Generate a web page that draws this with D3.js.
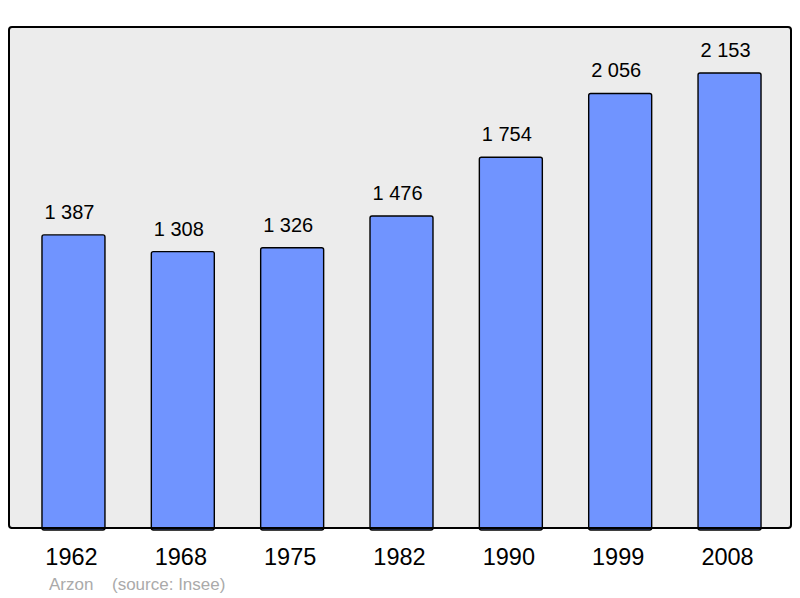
<!DOCTYPE html>
<html>
<head>
<meta charset="utf-8">
<script src="https://cdn.jsdelivr.net/npm/d3@7"></script>
<style>
  html, body { margin: 0; padding: 0; background: #ffffff; }
  svg { display: block; }
  text { font-family: "Liberation Sans", Arial, sans-serif; }
</style>
</head>
<body>
<svg id="chart" width="800" height="598"></svg>
<script>
const years = ["1962", "1968", "1975", "1982", "1990", "1999", "2008"];
const population = [1387, 1308, 1326, 1476, 1754, 2056, 2153];
const valueLabels = ["1 387", "1 308", "1 326", "1 476", "1 754", "2 056", "2 153"];
const commune = "Arzon";
const source = "(source: Insee)";

const svg = d3.select("#chart");
const panel = { left: 9, top: 27, right: 791, bottom: 528 };

const x = d3.scaleBand()
  .domain(years)
  .range([18.8, 784.2])
  .paddingInner(0.424)
  .paddingOuter(0.212);

const y = d3.scaleLinear()
  .domain([0, 2153])
  .range([panel.bottom, 73]);

svg.append("rect")
  .attr("x", panel.left).attr("y", panel.top)
  .attr("width", panel.right - panel.left)
  .attr("height", panel.bottom - panel.top)
  .attr("rx", 3).attr("ry", 3)
  .attr("fill", "#ececec")
  .attr("stroke", "#000").attr("stroke-width", 2);

const data = years.map((yr, i) => ({ year: yr, value: population[i], label: valueLabels[i] }));

svg.selectAll("rect.bar").data(data).enter().append("rect")
  .attr("class", "bar")
  .attr("x", d => x(d.year))
  .attr("y", d => y(d.value))
  .attr("width", x.bandwidth())
  .attr("height", d => panel.bottom - y(d.value) + 2)
  .attr("rx", 2).attr("ry", 2)
  .attr("fill", "#7094ff")
  .attr("stroke", "#000").attr("stroke-width", 1.4);

svg.append("line")
  .attr("x1", panel.left + 2).attr("x2", panel.right - 2)
  .attr("y1", panel.bottom).attr("y2", panel.bottom)
  .attr("stroke", "#000").attr("stroke-width", 2);

svg.selectAll("text.val").data(data).enter().append("text")
  .attr("class", "val")
  .attr("x", d => x(d.year) + x.bandwidth() / 2 - 4)
  .attr("y", d => y(d.value) - 16)
  .attr("text-anchor", "middle")
  .attr("font-size", 20)
  .attr("fill", "#000")
  .text(d => d.label);

svg.selectAll("text.year").data(data).enter().append("text")
  .attr("class", "year")
  .attr("x", d => x(d.year) + x.bandwidth() / 2 - 2)
  .attr("y", 565)
  .attr("text-anchor", "middle")
  .attr("font-size", 23.5)
  .attr("fill", "#000")
  .text(d => d.year);

svg.append("text")
  .attr("x", 49).attr("y", 590)
  .attr("font-size", 17)
  .attr("fill", "#aaaaaa")
  .text(commune);

svg.append("text")
  .attr("x", 112).attr("y", 590)
  .attr("font-size", 17)
  .attr("fill", "#aaaaaa")
  .text(source);
</script>
</body>
</html>
